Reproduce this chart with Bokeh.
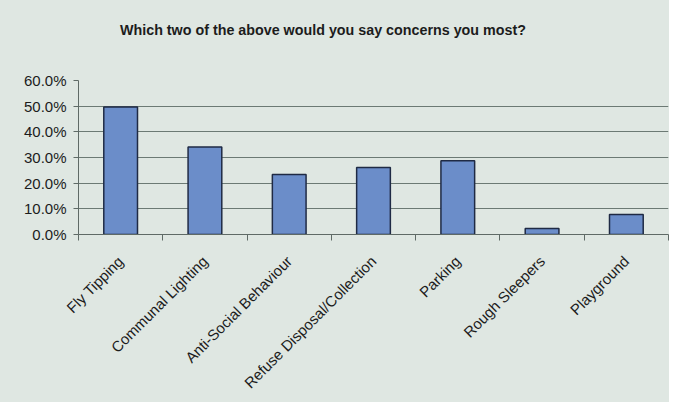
from bokeh.plotting import figure
from bokeh.models import ColumnDataSource, FixedTicker, NumeralTickFormatter, Range1d, Div
from bokeh.layouts import column
from bokeh.embed import file_html
from bokeh.resources import INLINE
import math

categories = ["Fly Tipping", "Communal Lighting", "Anti-Social Behaviour",
              "Refuse Disposal/Collection", "Parking", "Rough Sleepers", "Playground"]
values = [0.497, 0.341, 0.234, 0.261, 0.287, 0.023, 0.078]
y_ticks = [0.0, 0.1, 0.2, 0.3, 0.4, 0.5, 0.6]
title_text = "Which two of the above would you say concerns you most?"

BG = "#dfe7e2"
TXT = "#1c1c1c"
AX = "#5f6a66"
FONT = "Liberation Sans"

xs = list(range(len(categories)))
src = ColumnDataSource(dict(x=xs, top=values, name=categories))
x_start, x_end = -0.5, len(categories) - 0.5
y_start, y_end = y_ticks[0], y_ticks[-1]

title_div = Div(text=title_text, width=669, height=50, margin=0,
                styles={"background-color": BG, "box-sizing": "border-box",
                        "padding-top": "22px", "padding-left": "120px",
                        "font-family": FONT, "font-size": "14.3px", "font-weight": "bold",
                        "color": TXT, "line-height": "16px", "white-space": "nowrap"})

p = figure(width=669, height=352, output_backend="svg", toolbar_location=None,
           x_range=Range1d(x_start, x_end), y_range=Range1d(y_start, y_end),
           min_border_left=78, min_border_right=1, min_border_top=30, min_border_bottom=168,
           margin=0)
p.background_fill_color = BG
p.border_fill_color = BG
p.outline_line_color = None

p.vbar(x="x", top="top", width=0.4, bottom=0, source=src,
       fill_color="#6b8dc9", line_color="#1f2a44", line_width=1.5)

# y axis
p.yaxis.ticker = FixedTicker(ticks=y_ticks)
p.yaxis.formatter = NumeralTickFormatter(format="0.0%")
p.yaxis.major_label_text_font = FONT
p.yaxis.major_label_text_font_size = "15px"
p.yaxis.major_label_text_color = TXT
p.yaxis.axis_line_color = AX
p.yaxis.major_tick_line_color = AX
p.yaxis.major_tick_out = 5
p.yaxis.major_tick_in = 0
p.yaxis.minor_tick_line_color = None
p.yaxis.major_label_standoff = 7

# x axis
edges = [i - 0.5 for i in range(len(categories) + 1)]
p.xaxis.ticker = FixedTicker(ticks=xs, minor_ticks=edges)
p.xaxis.major_label_overrides = {i: c for i, c in zip(xs, categories)}
p.xaxis.major_label_orientation = math.pi / 4
p.xaxis.major_label_text_font = FONT
p.xaxis.major_label_text_font_size = "15px"
p.xaxis.major_label_text_color = TXT
p.xaxis.axis_line_color = AX
p.xaxis.major_tick_line_color = None
p.xaxis.major_tick_out = 0
p.xaxis.major_tick_in = 0
p.xaxis.minor_tick_line_color = AX
p.xaxis.minor_tick_out = 6
p.xaxis.minor_tick_in = 0
p.xaxis.major_label_standoff = 18

p.xgrid.grid_line_color = None
p.ygrid.ticker = FixedTicker(ticks=y_ticks)
p.ygrid.grid_line_color = "#6c7a74"
p.ygrid.grid_line_width = 1

layout = column(title_div, p, spacing=0, margin=0, styles={"background-color": BG})
open("out.html", "w").write(file_html(layout, INLINE))
